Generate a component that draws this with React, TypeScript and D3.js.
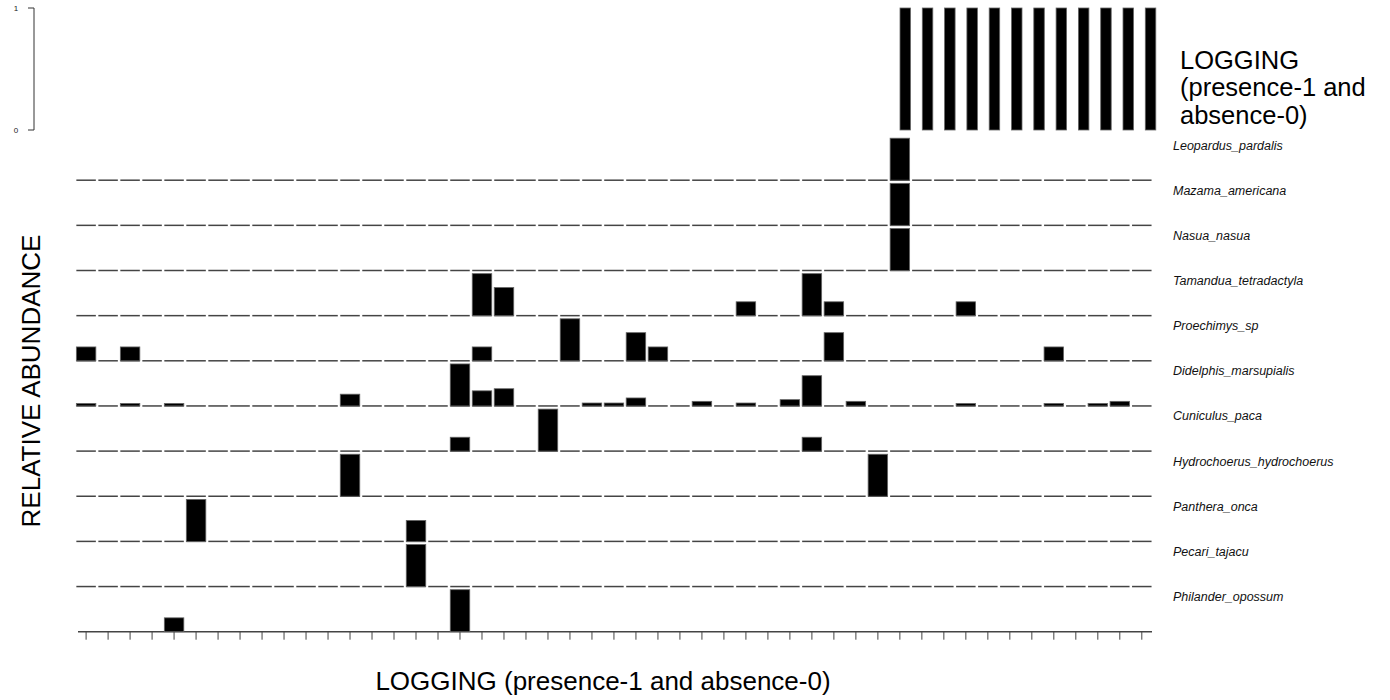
import React from "react";
import * as d3 from "d3";

// Sites along the logging gradient (49 sampling units)
const siteCount = 49;
const sites = d3.range(siteCount);

// Logging: 0 = absent, 1 = present
const logging = [
  0, 0, 0, 0, 0, 0, 0, 0, 0, 0, 0, 0, 0, 0, 0, 0, 0, 0, 0, 0,
  0, 0, 0, 0, 0, 0, 0, 0, 0, 0, 0, 0, 0, 0, 0, 0, 0, 1, 1, 1,
  1, 1, 1, 1, 1, 1, 1, 1, 1,
];

const species = [
  "Leopardus_pardalis",
  "Mazama_americana",
  "Nasua_nasua",
  "Tamandua_tetradactyla",
  "Proechimys_sp",
  "Didelphis_marsupialis",
  "Cuniculus_paca",
  "Hydrochoerus_hydrochoerus",
  "Panthera_onca",
  "Pecari_tajacu",
  "Philander_opossum",
];

// Relative abundance per site (sparse: site index -> value)
const leopardus: [number, number][] = [[37, 1]];
const mazama: [number, number][] = [[37, 1]];
const nasua: [number, number][] = [[37, 1]];
const tamandua: [number, number][] = [
  [18, 1], [19, 0.67], [30, 0.33], [33, 1], [34, 0.33], [40, 0.33],
];
const proechimys: [number, number][] = [
  [0, 0.33], [2, 0.33], [18, 0.33], [22, 1], [25, 0.67], [26, 0.33],
  [34, 0.67], [44, 0.33],
];
const didelphis: [number, number][] = [
  [0, 0.06], [2, 0.06], [4, 0.06], [12, 0.28], [17, 1], [18, 0.36],
  [19, 0.41], [23, 0.07], [24, 0.07], [25, 0.19], [28, 0.11], [30, 0.07],
  [32, 0.15], [33, 0.72], [35, 0.11], [40, 0.06], [44, 0.06], [46, 0.06],
  [47, 0.11],
];
const cuniculus: [number, number][] = [[17, 0.33], [21, 1], [33, 0.33]];
const hydrochoerus: [number, number][] = [[12, 1], [36, 1]];
const panthera: [number, number][] = [[5, 1], [15, 0.5]];
const pecari: [number, number][] = [[15, 1]];
const philander: [number, number][] = [[4, 0.33], [17, 1]];

const abundance = [
  leopardus, mazama, nasua, tamandua, proechimys, didelphis,
  cuniculus, hydrochoerus, panthera, pecari, philander,
];

const topTicks = [0, 1];

const W = 1390;
const H = 700;
const FONT = "'Liberation Sans', Arial, sans-serif";

export default function App() {
  // Logging strip scales
  const xTop = d3.scaleLinear().domain([0, siteCount]).range([74.9, 1167.6]);
  const yTop = d3.scaleLinear().domain([0, 1]).range([130, 8]);
  const topBarW = 10.5;

  // Species panel scales
  const x = d3.scaleLinear().domain([0, siteCount - 1]).range([86.1, 1141.8]);
  const barW = 19.5;
  const rowBase = d3
    .scaleLinear()
    .domain([0, species.length - 1])
    .range([180.2, 631.7]);
  const barH = d3.scaleLinear().domain([0, 1]).range([0, 42]);

  const axisY = rowBase(species.length - 1);

  return (
    <svg
      width={W}
      height={H}
      style={{ position: "absolute", left: 0, top: 0, background: "#fff" }}
      fontFamily={FONT}
    >
      {/* logging presence strip */}
      <g>
        <line x1={34} x2={34} y1={yTop(1)} y2={yTop(0)} stroke="#333" strokeWidth={1} />
        {topTicks.map((t) => (
          <g key={t}>
            <line x1={28} x2={34} y1={yTop(t)} y2={yTop(t)} stroke="#333" strokeWidth={1} />
            <text x={16} y={yTop(t) + 3} fontSize={8} textAnchor="middle" fill="#222">
              {t}
            </text>
          </g>
        ))}
        {sites
          .filter((i) => logging[i] > 0)
          .map((i) => (
            <rect
              key={i}
              x={xTop(i)}
              y={yTop(logging[i])}
              width={topBarW}
              height={yTop(0) - yTop(logging[i])}
              fill="#000"
              stroke="#666"
              strokeWidth={0.8}
            />
          ))}
        <text fontSize={25.5} fill="#000">
          <tspan x={1180} y={69}>LOGGING</tspan>
          <tspan x={1180} y={96}>(presence-1 and</tspan>
          <tspan x={1180} y={124}>absence-0)</tspan>
        </text>
      </g>

      {/* baselines drawn as short segments, one per site */}
      {species.slice(0, species.length - 1).map((sp, k) => (
        <g key={sp + "-base"}>
          {sites.map((i) => (
            <line
              key={i}
              x1={x(i) - barW / 2}
              x2={x(i) + barW / 2}
              y1={rowBase(k)}
              y2={rowBase(k)}
              stroke="#444"
              strokeWidth={1.5}
            />
          ))}
        </g>
      ))}

      {/* bottom axis */}
      <line x1={78} x2={1152} y1={axisY} y2={axisY} stroke="#444" strokeWidth={1.5} />
      {sites.map((i) => (
        <line
          key={"t" + i}
          x1={x(i)}
          x2={x(i)}
          y1={axisY}
          y2={axisY + 8}
          stroke="#444"
          strokeWidth={1}
        />
      ))}

      {/* abundance bars */}
      {abundance.map((rows, k) => (
        <g key={species[k]}>
          {rows.map(([i, v]) => (
            <rect
              key={i}
              x={x(i) - barW / 2}
              y={rowBase(k) - barH(v)}
              width={barW}
              height={barH(v)}
              fill="#000"
              stroke="#666"
              strokeWidth={0.8}
            />
          ))}
        </g>
      ))}

      {/* species labels */}
      {species.map((sp, k) => (
        <text
          key={sp}
          x={1173}
          y={rowBase(k) - 35}
          dy="0.35em"
          fontSize={12.5}
          fontStyle="italic"
          fill="#111"
        >
          {sp}
        </text>
      ))}

      {/* axis titles */}
      <text
        transform={`translate(40, 381) rotate(-90)`}
        textAnchor="middle"
        fontSize={26}
        fill="#000"
      >
        RELATIVE ABUNDANCE
      </text>
      <text x={603} y={690} textAnchor="middle" fontSize={26} fill="#000">
        LOGGING (presence-1 and absence-0)
      </text>
    </svg>
  );
}
